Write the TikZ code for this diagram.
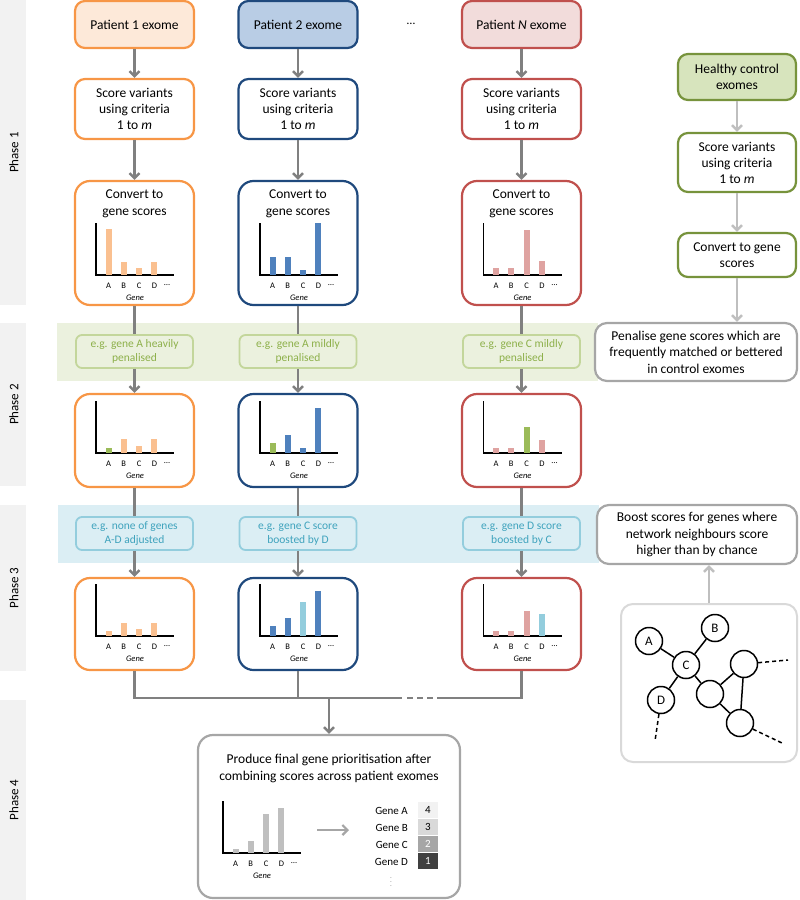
\documentclass[tikz,border=0pt]{standalone}
\usepackage{fontspec}
\setmainfont{Carlito}
\usetikzlibrary{arrows.meta}
\definecolor{cor}{HTML}{F79646}
\definecolor{corf}{HTML}{FDE9D9}
\definecolor{corb}{HTML}{FAC090}
\definecolor{cbl}{HTML}{1F497D}
\definecolor{cblf}{HTML}{B9CDE5}
\definecolor{cblb}{HTML}{4F81BD}
\definecolor{cre}{HTML}{C0504D}
\definecolor{cref}{HTML}{F2DCDB}
\definecolor{creb}{HTML}{DFA3A1}
\definecolor{cgr}{HTML}{77933C}
\definecolor{cgrf}{HTML}{D7E4BD}
\definecolor{cgrb}{HTML}{9BBB59}
\definecolor{cltb}{HTML}{93CDDD}
\definecolor{bandg}{HTML}{EBF1DE}
\definecolor{pillg}{HTML}{C3D69B}
\definecolor{txtg}{HTML}{8DB04A}
\definecolor{bandb}{HTML}{DBEEF4}
\definecolor{pillb}{HTML}{93CDDD}
\definecolor{txtb}{HTML}{3FA3BD}
\definecolor{phasebg}{HTML}{F2F2F2}
\definecolor{arrd}{HTML}{808080}
\definecolor{arrl}{HTML}{BFBFBF}
\definecolor{boxg}{HTML}{A6A6A6}
\definecolor{boxl}{HTML}{D9D9D9}
\definecolor{rk4}{HTML}{F2F2F2}
\definecolor{rk3}{HTML}{D9D9D9}
\definecolor{rk2}{HTML}{A6A6A6}
\definecolor{rk1}{HTML}{404040}
\definecolor{finb}{HTML}{BFBFBF}
\newcommand{\gchart}[4]{%
  \draw[line width=1.2pt, black] (#2,{#3-52}) -- (#2,#3) -- ({#2+78},#3);
  \foreach \h/\c [count=\i] in {#4} {
    \fill[\c] ({#2+12.5+15.3*(\i-1)-3},#3) rectangle ++(6,-\h);
  }
  \foreach \l [count=\i] in {A,B,C,D}
    \node[glab] (#1l\i) at ({#2+12.5+15.3*(\i-1)},{#3+11}) {\l};
  \node[glab] (#1dots) at ({#2+71},{#3+10}) {…};
  \node[glab, font=\fontsize{8.5}{9}\selectfont\itshape] (#1g) at ({#2+39},{#3+23}) {Gene};
}
\begin{document}
\begin{tikzpicture}[x=1pt,y=-1pt,
  glab/.style={inner sep=0pt, font=\fontsize{8.5}{9}\selectfont},
  box/.style={draw, line width=2.2pt, rounded corners=10pt, fill=white, minimum width=119pt,
    align=center, inner sep=0pt, font=\fontsize{13.5}{16}\selectfont},
  bigbox/.style={box, rounded corners=15pt},
  pillgreen/.style={draw=pillg, line width=1.8pt, rounded corners=6pt, fill=bandg, minimum width=117pt,
    minimum height=33pt, text=txtg, align=center, inner sep=0pt, font=\fontsize{11.5}{14}\selectfont},
  pillblue/.style={pillgreen, draw=pillb, fill=bandb, text=txtb},
  graybox/.style={draw=boxg, line width=2.2pt, rounded corners=12pt, fill=white, align=center,
    inner sep=0pt, font=\fontsize{13.5}{16.5}\selectfont},
  arr/.style={draw=arrd, line width=2.5pt, -{Straight Barb[length=5pt,width=10pt]}},
  arrlight/.style={arr, draw=arrl},
  conn/.style={draw=arrd, line width=2.5pt},
  phaselab/.style={rotate=90, font=\fontsize{13}{14}\selectfont, inner sep=0pt},
  netnode/.style={circle, draw, line width=1.5pt, minimum size=27pt, inner sep=0pt, fill=white,
    font=\fontsize{13}{14}\selectfont},
  netedge/.style={line width=1.5pt, black},
  netdash/.style={netedge, dash pattern=on 4pt off 3pt},
  rank/.style={minimum width=20pt, minimum height=16pt, inner sep=0pt, font=\fontsize{11}{12}\selectfont},
  ranklab/.style={anchor=east, inner sep=0pt, font=\fontsize{11}{12}\selectfont}
]
\useasboundingbox (0,0) rectangle (800,900);
% phase bars
\fill[phasebg] (0,0) rectangle (26,305);
\fill[phasebg] (0,323) rectangle (26,486);
\fill[phasebg] (0,505) rectangle (26,671);
\fill[phasebg] (0,700) rectangle (26,900);
\node[phaselab] (ph1) at (14,152.5) {Phase 1};
\node[phaselab] (ph2) at (14,404.5) {Phase 2};
\node[phaselab] (ph3) at (14,588) {Phase 3};
\node[phaselab] (ph4) at (14,800) {Phase 4};
% bands
\fill[bandg] (57,323) rectangle (598,381);
\fill[bandb] (58,505) rectangle (599,563);
% column nodes
\foreach \n/\cx/\bc/\fc/\lab in {1/134.5/cor/corf/{Patient 1 exome}, 2/298/cbl/cblf/{Patient 2 exome}, 3/521.5/cre/cref/{Patient \textit{N} exome}} {
  \node[box, draw=\bc, fill=\fc, minimum height=47pt] (pat\n) at (\cx,24.5) {\lab};
  \node[box, draw=\bc, minimum height=60pt] (sc\n) at (\cx,109) {Score variants\\using criteria\\1 to \textit{m}};
  \node[bigbox, draw=\bc, minimum height=124pt] (cv\n) at (\cx,243) {};
  \node[align=center, inner sep=0pt, font=\fontsize{13.5}{16.5}\selectfont] (cvt\n) at (\cx,204) {Convert to\\gene scores};
  \node[bigbox, draw=\bc, minimum height=93pt] (pb\n) at (\cx,440.5) {};
  \node[bigbox, draw=\bc, minimum height=92pt] (pc\n) at (\cx,624) {};
}
\node[inner sep=0pt, font=\fontsize{12}{14}\selectfont] (dots) at (411,24) {…};
% pills
\node[pillgreen] (pa1) at (134.5,351.5) {e.g. gene A heavily\\penalised};
\node[pillgreen] (pa2) at (298,351.5) {e.g. gene A mildly\\penalised};
\node[pillgreen] (pa3) at (521.5,351.5) {e.g. gene C mildly\\penalised};
\node[pillblue] (pd1) at (134.5,533.5) {e.g. none of genes\\A-D adjusted};
\node[pillblue] (pd2) at (298,533.5) {e.g. gene C score\\boosted by D};
\node[pillblue] (pd3) at (521.5,533.5) {e.g. gene D score\\boosted by C};
% charts
\gchart{a1}{96}{275}{46/corb,13/corb,7/corb,13/corb}
\gchart{a2}{260}{275}{18/cblb,18/cblb,5/cblb,52/cblb}
\gchart{a3}{483.5}{275}{7/creb,7/creb,45/creb,14/creb}
\gchart{b1}{96}{453}{5/cgrb,14/corb,7/corb,14/corb}
\gchart{b2}{260}{453}{10/cgrb,18/cblb,5/cblb,45/cblb}
\gchart{b3}{483.5}{453}{5/creb,5/creb,26/cgrb,13/creb}
\gchart{c1}{96}{636}{5/corb,13/corb,7/corb,13/corb}
\gchart{c2}{260}{636}{10/cblb,18/cblb,34/cltb,45/cblb}
\gchart{c3}{483.5}{636}{5/creb,5/creb,25/creb,22/cltb}
% column arrows
\foreach \n in {1,2,3} {
  \draw[arr] (pat\n.south) -- (sc\n.north);
  \draw[arr] (sc\n.south) -- (cv\n.north);
  \draw[conn] (cv\n.south) -- (pa\n.north);
  \draw[arr] (pa\n.south) -- (pb\n.north);
  \draw[conn] (pb\n.south) -- (pd\n.north);
  \draw[arr] (pd\n.south) -- (pc\n.north);
}
% control column
\node[box, draw=cgr, fill=cgrf, minimum width=118pt, minimum height=46pt] (hc) at (737,77) {Healthy control\\exomes};
\node[box, draw=cgr, minimum width=118pt, minimum height=59pt] (scg) at (737,162.5) {Score variants\\using criteria\\1 to \textit{m}};
\node[box, draw=cgr, minimum width=118pt, minimum height=44pt] (cvg) at (737,255) {Convert to gene\\scores};
\node[graybox, minimum width=202pt, minimum height=58pt] (pen) at (696,352) {Penalise gene scores which are\\frequently matched or bettered\\in control exomes};
\node[graybox, minimum width=200pt, minimum height=59pt] (bst) at (697,534.5) {Boost scores for genes where\\network neighbours score\\higher than by chance};
\draw[arrlight] (hc.south) -- (scg.north);
\draw[arrlight] (scg.south) -- (cvg.north);
\draw[arrlight] (cvg.south) -- (cvg.south |- pen.north);
% network
\node[draw=boxl, line width=2pt, rounded corners=12pt, minimum width=176pt, minimum height=158pt] (net) at (709,683) {};
\draw[arrlight] (net.north) -- (net.north |- bst.south);
\node[netnode] (nA) at (649,641) {A};
\node[netnode] (nB) at (715,628) {B};
\node[netnode] (nC) at (686,665) {C};
\node[netnode] (nD) at (661,700) {D};
\node[netnode] (n1) at (744,664) {};
\node[netnode] (n2) at (710,694) {};
\node[netnode] (n3) at (740,723) {};
\coordinate (e1) at (788,660);
\coordinate (e3) at (782,743);
\coordinate (eD) at (655,741);
\draw[netedge] (nA) -- (nC);
\draw[netedge] (nB) -- (nC);
\draw[netedge] (nC) -- (nD);
\draw[netedge] (nC) -- (n2);
\draw[netedge] (n2) -- (n1);
\draw[netedge] (n1) -- (n3);
\draw[netedge] (n2) -- (n3);
\draw[netdash] (n1) -- (e1);
\draw[netdash] (n3) -- (e3);
\draw[netdash] (nD) -- (eD);
% combine connector
\node[graybox, minimum width=262pt, minimum height=163pt, rounded corners=15pt] (fin) at (329,816.5) {};
\coordinate (j1) at (134.5,698);
\coordinate (j2) at (298,698);
\coordinate (j3) at (521.5,698);
\coordinate (jm) at (fin.north |- j1);
\coordinate (d1) at (402,698);
\coordinate (d2) at (437,698);
\draw[conn, line join=miter] (pc1.south) -- (j1) -- (d1);
\draw[conn, line join=miter] (d2) -- (j3) -- (pc3.south);
\draw[conn] (pc2.south) -- (j2);
\draw[draw=arrd, line width=2.5pt, dash pattern=on 6pt off 4pt] (407,698) -- (d2);
\draw[arr] (jm) -- (fin.north);
% final box contents
\node[align=center, inner sep=0pt, font=\fontsize{13.5}{17}\selectfont] (fint) at (329,768.5) {Produce final gene prioritisation after\\combining scores across patient exomes};
\gchart{f}{223}{853}{4/finb,12/finb,39/finb,45/finb}
\coordinate (fa1) at (317,830);
\coordinate (fa2) at (349,830);
\draw[arr, draw=boxg, line width=2.2pt] (fa1) -- (fa2);
\node[ranklab] (gA) at (408,811) {Gene A};
\node[ranklab] (gB) at (408,828) {Gene B};
\node[ranklab] (gC) at (408,845) {Gene C};
\node[ranklab] (gD) at (408,862) {Gene D};
\node[rank, fill=rk4] (r4) at (428,810) {4};
\node[rank, fill=rk3] (r3) at (428,827) {3};
\node[rank, fill=rk2, text=white] (r2) at (428,844) {2};
\node[rank, fill=rk1, text=white] (r1) at (428,861) {1};
\node[inner sep=0pt, font=\scriptsize, text=arrd] (vd) at (391,879) {$\vdots$};
\end{tikzpicture}
\end{document}
